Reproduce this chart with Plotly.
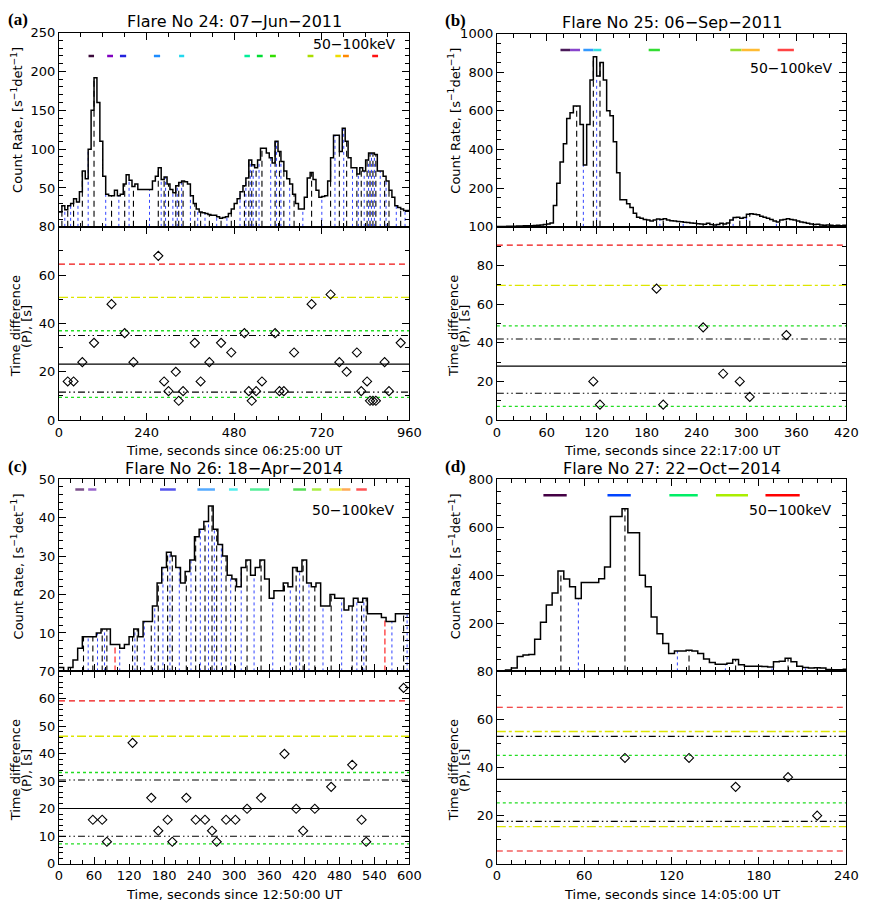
import numpy as np
import plotly.graph_objects as go

W, H = 874, 915
FONT = "DejaVu Sans"

# ---------------- Panel (a): Flare 24 ----------------
a_title = "Flare No 24: 07\u2212Jun\u22122011"
a_xtitle = "Time, seconds since 06:25:00 UT"
a_bin = 8
a_t0 = 0
a_counts = [19, 27, 22, 27, 30, 36, 32, 45, 72, 62,
            100, 150, 192, 160, 110, 65, 42, 40, 40, 47,
            40, 42, 55, 67, 60, 52, 55, 48, 48, 48,
            48, 48, 59, 65, 76, 61, 64, 55, 48, 44,
            53, 57, 59, 58, 55, 40, 30, 23, 19, 18,
            17, 16, 15, 15, 13, 11, 12, 13, 17, 23,
            30, 36, 45, 53, 63, 86, 80, 76, 86, 101,
            101, 95, 89, 82, 110, 97, 84, 72, 62, 55,
            42, 30, 23, 23, 38, 63, 70, 61, 47, 38,
            39, 40, 59, 89, 118, 118, 97, 127, 110, 89,
            76, 76, 68, 76, 72, 86, 95, 95, 93, 72,
            72, 65, 59, 47, 38, 27, 25, 23, 21, 21]
a_peak_t = [8, 24, 40, 64, 96, 144, 180, 204, 272, 288, 300, 320, 328, 340, 372, 388,
            412, 444, 472, 508, 520, 528, 540, 556, 592, 604, 616, 644, 692, 744, 768,
            788, 816, 828, 844, 852, 860, 868, 892, 904, 936]
a_valley_t = [16, 32, 52, 80, 128, 164, 192, 248, 280, 292, 312, 324, 336, 360, 380, 400,
              432, 460, 496, 512, 524, 532, 548, 580, 596, 608, 632, 668, 720, 756, 780,
              804, 820, 836, 848, 856, 864, 880, 896, 924, 948]
a_red_vt = []
a_diam_t = [24, 40, 64, 96, 144, 180, 204, 272, 288, 300, 320, 328, 340, 372, 388, 412,
            444, 472, 508, 520, 528, 540, 556, 592, 604, 616, 644, 692, 744, 768, 788,
            816, 828, 844, 852, 860, 868, 892, 904, 936]
a_diam_p = [16, 16, 24, 32, 48, 36, 24, 68, 16, 12, 20, 8, 12, 32, 16, 24, 32, 28, 36, 12,
            8, 12, 16, 36, 12, 12, 28, 48, 52, 24, 20, 28, 12, 16, 8, 8, 8, 24, 12, 32]
a_mean = 23.2
a_sigma = [11.6, 35.0]
a_green = [9.4, 37.0]
a_yellow = [50.8]
a_red = [64.6]
a_seg_y = 220
a_seg_start = [81, 132, 167, 260, 329, 508, 542, 578, 681, 757, 778, 858]
a_seg_end = [96, 148, 184, 277, 343, 523, 558, 594, 697, 772, 794, 874]
a_seg_color = ["#3a0a3a", "#8000c0", "#2222dd", "#1e8cff", "#22d8ee", "#00ee99",
               "#00dd33", "#33dd00", "#aadd00", "#eedd00", "#ff8800", "#ff1111"]

# ---------------- Panel (b): Flare 25 ----------------
b_title = "Flare No 25: 06\u2212Sep\u22122011"
b_xtitle = "Time, seconds since 22:17:00 UT"
b_bin = 4
b_t0 = 0
b_counts = [2, 2, 2, 3, 3, 3, 4, 4, 5, 5,
            6, 7, 8, 10, 12, 15, 20, 110, 225, 335,
            430, 560, 590, 625, 625, 530, 320, 530, 760, 880,
            780, 850, 760, 600, 575, 440, 280, 140, 140, 120,
            100, 70, 50, 45, 38, 35, 30, 35, 40, 38,
            42, 35, 32, 30, 28, 26, 24, 22, 20, 18,
            16, 15, 14, 18, 12, 10, 12, 18, 15, 20,
            35, 48, 50, 45, 48, 65, 68, 65, 62, 55,
            50, 45, 38, 30, 25, 35, 38, 42, 38, 35,
            30, 25, 22, 18, 15, 12, 14, 10, 8, 10,
            8, 6, 8, 5, 8]
b_peak_t = [96, 116, 124, 192, 200, 248, 272, 292, 304, 348]
b_valley_t = [104, 120, 196, 224, 264, 284, 300, 336]
b_red_vt = []
b_diam_t = [116, 124, 192, 200, 248, 272, 292, 304, 348]
b_diam_p = [20, 8, 68, 8, 48, 24, 20, 12, 44]
b_mean = 27.9
b_sigma = [13.9, 42.0]
b_green = [7.1, 48.8]
b_yellow = [69.7]
b_red = [90.5]
b_seg_y = 915
b_seg_start = [76.5, 88, 104, 116, 182.5, 280.6, 294, 337.5]
b_seg_end = [88, 100, 116, 125.6, 196, 294, 316, 357]
b_seg_color = ["#4a1a5a", "#8844cc", "#3399ff", "#33dddd", "#33dd33", "#99dd33",
               "#ffbb33", "#ff4444"]

# ---------------- Panel (c): Flare 26 ----------------
c_title = "Flare No 26: 18\u2212Apr\u22122014"
c_xtitle = "Time, seconds since 12:50:00 UT"
c_bin = 8
c_t0 = 0
c_counts = [1, 0, 1, 3, 6, 9, 9, 9, 10, 11,
            11, 7, 7, 6, 7, 9, 11, 9, 13, 13,
            17, 23, 27, 31, 30, 27, 23, 26, 29, 35,
            37, 39, 43, 37, 33, 30, 25, 24, 22, 27,
            29, 25, 27, 29, 24, 19, 21, 21, 23, 22,
            27, 26, 29, 23, 22, 23, 17, 17, 20, 19,
            19, 16, 17, 19, 18, 19, 15, 15, 15, 14,
            13, 13, 15, 15, 15]
c_peak_t = [42, 58, 74, 82, 126, 134, 158, 170, 186, 194, 218, 234, 250, 262, 270, 286,
            302, 322, 346, 386, 406, 418, 438, 466, 502, 518, 526, 590]
c_valley_t = [50, 66, 78, 104, 130, 146, 164, 178, 190, 206, 226, 242, 256, 266, 278,
              294, 312, 334, 366, 396, 412, 428, 452, 484, 510, 522, 570, 596]
c_red_vt = [96, 558]
c_diam_t = [58, 74, 82, 126, 158, 170, 186, 194, 218, 234, 250, 262, 270, 286, 302, 322,
            346, 386, 406, 418, 438, 466, 502, 518, 526, 590]
c_diam_p = [16, 16, 8, 44, 24, 12, 16, 8, 24, 16, 16, 12, 8, 16, 16, 20, 24, 40, 20, 12,
            20, 28, 36, 16, 8, 64]
c_mean = 20.1
c_sigma = [10.0, 30.5]
c_green = [7.2, 33.2]
c_yellow = [46.4]
c_red = [59.3]
c_seg_y = 47.3
c_seg_start = [28, 50, 173, 237, 291, 327, 401, 433, 463, 484, 509]
c_seg_end = [43, 64, 200, 267, 306, 360, 423, 449, 484, 499, 527]
c_seg_color = ["#7a4f8a", "#9966cc", "#5555ee", "#55aaff", "#55eeee", "#55ee99",
               "#55dd55", "#aaee44", "#eeee44", "#ffaa55", "#ff5555"]

# ---------------- Panel (d): Flare 27 ----------------
d_title = "Flare No 27: 22\u2212Oct\u22122014"
d_xtitle = "Time, seconds since 14:05:00 UT"
d_bin = 4
d_t0 = -2
d_counts = [2, 3, 6, 14, 62, 68, 70, 134, 205, 276,
            326, 418, 385, 352, 303, 370, 370, 370, 386, 434,
            645, 645, 677, 577, 577, 400, 352, 226, 157, 116,
            75, 85, 85, 88, 85, 75, 52, 37, 30, 30,
            34, 50, 28, 22, 22, 22, 20, 18, 40, 42,
            55, 40, 22, 16, 14, 15, 14, 8, 7, 7,
            9]
d_peak_t = [44, 88, 132, 164, 200, 220]
d_valley_t = [56, 124, 157, 189, 212]
d_red_vt = []
d_diam_t = [88, 132, 164, 200, 220]
d_diam_p = [44, 44, 32, 36, 20]
d_mean = 35.1
d_sigma = [17.6, 53.0]
d_green = [25.3, 45.1]
d_yellow = [15.4, 55.0]
d_red = [5.3, 65.1]
d_seg_y = 733
d_seg_start = [32, 76, 118.5, 150.5, 184.5]
d_seg_end = [48, 92, 138, 172.5, 208]
d_seg_color = ["#440044", "#0044ff", "#00ee66", "#aaee00", "#ff0000"]

panels = [
    dict(label="(a)", title=a_title, xt=a_xtitle, binw=a_bin, t0=a_t0, counts=a_counts,
         peaks=a_peak_t, valleys=a_valley_t, redv=a_red_vt, dt=a_diam_t, dp=a_diam_p,
         mean=a_mean, sigma=a_sigma, green=a_green, yellow=a_yellow, red=a_red,
         sy=a_seg_y, ss=a_seg_start, se=a_seg_end, sc=a_seg_color),
    dict(label="(b)", title=b_title, xt=b_xtitle, binw=b_bin, t0=b_t0, counts=b_counts,
         peaks=b_peak_t, valleys=b_valley_t, redv=b_red_vt, dt=b_diam_t, dp=b_diam_p,
         mean=b_mean, sigma=b_sigma, green=b_green, yellow=b_yellow, red=b_red,
         sy=b_seg_y, ss=b_seg_start, se=b_seg_end, sc=b_seg_color),
    dict(label="(c)", title=c_title, xt=c_xtitle, binw=c_bin, t0=c_t0, counts=c_counts,
         peaks=c_peak_t, valleys=c_valley_t, redv=c_red_vt, dt=c_diam_t, dp=c_diam_p,
         mean=c_mean, sigma=c_sigma, green=c_green, yellow=c_yellow, red=c_red,
         sy=c_seg_y, ss=c_seg_start, se=c_seg_end, sc=c_seg_color),
    dict(label="(d)", title=d_title, xt=d_xtitle, binw=d_bin, t0=d_t0, counts=d_counts,
         peaks=d_peak_t, valleys=d_valley_t, redv=d_red_vt, dt=d_diam_t, dp=d_diam_p,
         mean=d_mean, sigma=d_sigma, green=d_green, yellow=d_yellow, red=d_red,
         sy=d_seg_y, ss=d_seg_start, se=d_seg_end, sc=d_seg_color),
]

# ---- geometry / styling (pixels) ----
geo = [
    dict(xpx=(56, 413), top=(26, 223.5), bot=(223.5, 420), xr=960, xd=240, xm=60,
         yr=250, yd=50, ym=10, pr=80, pd=20, pm=10, kev=(357, 38)),
    dict(xpx=(502, 858), top=(27, 223.5), bot=(223.5, 420), xr=420, xd=60, xm=20,
         yr=1000, yd=200, ym=50, pr=100, pd=20, pm=10, kev=(802, 62)),
    dict(xpx=(56, 413), top=(480, 675.5), bot=(675.5, 871), xr=600, xd=60, xm=20,
         yr=50, yd=10, ym=2, pr=70, pd=10, pm=2, kev=(355, 511)),
    dict(xpx=(502, 858), top=(480, 675.5), bot=(675.5, 871), xr=240, xd=60, xm=10,
         yr=800, yd=200, ym=50, pr=80, pd=20, pm=10, kev=(801, 511)),
]


def pxx(px):
    return px / W


def pxy(py):
    return 1 - py / H


def sfx(n):
    return "" if n == 1 else str(n)


def height_at(t, p):
    i = int((t - p["t0"]) // p["binw"])
    i = max(0, min(i, len(p["counts"]) - 1))
    return p["counts"][i]


def vsegs(times, p):
    xs, ys = [], []
    for t in times:
        xs += [t, t, None]
        ys += [0, height_at(t, p), None]
    return xs, ys


fig = go.Figure()
layout = dict(width=W, height=H, margin=dict(l=0, r=0, t=0, b=0),
              paper_bgcolor="white", plot_bgcolor="white", showlegend=False,
              annotations=[])

SIG_DASH = "7px,3px,1.5px,3px,1.5px,3px"

for k, (p, g) in enumerate(zip(panels, geo)):
    nt, nb = 2 * k + 1, 2 * k + 2
    xt_, yt_ = "x" + sfx(nt), "y" + sfx(nt)
    xb_, yb_ = "x" + sfx(nb), "y" + sfx(nb)
    xr = g["xr"]

    # ---- top: vertical markers
    xs, ys = vsegs(p["valleys"], p)
    fig.add_trace(go.Scatter(x=xs, y=ys, mode="lines", xaxis=xt_, yaxis=yt_,
                             line=dict(color="#3344ff", width=1, dash="dot"),
                             hoverinfo="skip"))
    xs, ys = vsegs(p["peaks"], p)
    fig.add_trace(go.Scatter(x=xs, y=ys, mode="lines", xaxis=xt_, yaxis=yt_,
                             line=dict(color="black", width=1.1, dash="6px,4px"),
                             hoverinfo="skip"))
    if p["redv"]:
        xs, ys = vsegs(p["redv"], p)
        fig.add_trace(go.Scatter(x=xs, y=ys, mode="lines", xaxis=xt_, yaxis=yt_,
                                 line=dict(color="#ff3333", width=1.3, dash="6px,3px"),
                                 hoverinfo="skip"))
    # ---- top: count-rate histogram
    n = len(p["counts"])
    edges = p["t0"] + np.arange(n + 1) * p["binw"]
    fig.add_trace(go.Scatter(x=edges, y=list(p["counts"]) + [p["counts"][-1]],
                             mode="lines", line_shape="hv", xaxis=xt_, yaxis=yt_,
                             line=dict(color="black", width=1.5)))
    # ---- top: coloured period segments
    for s, e, c in zip(p["ss"], p["se"], p["sc"]):
        fig.add_trace(go.Scatter(x=[s, e], y=[p["sy"], p["sy"]], mode="lines",
                                 xaxis=xt_, yaxis=yt_, line=dict(color=c, width=2.5)))

    # ---- bottom: reference lines
    def hl(vals, color, dash, width=1):
        for v in vals:
            fig.add_trace(go.Scatter(x=[0, xr], y=[v, v], mode="lines", xaxis=xb_,
                                     yaxis=yb_, line=dict(color=color, dash=dash,
                                                          width=width)))
    hl(p["red"], "#ee1111", "6px,4px", 1.2)
    hl(p["yellow"], "#dde600", "dashdot", 1.3)
    hl(p["green"], "#22dd22", "dot", 1.3)
    hl(p["sigma"], "black", SIG_DASH, 1.1)
    hl([p["mean"]], "black", "solid", 1.2)
    fig.add_trace(go.Scatter(x=p["dt"], y=p["dp"], mode="markers", xaxis=xb_, yaxis=yb_,
                             marker=dict(symbol="diamond-open", size=7, color="black",
                                         line=dict(color="black", width=1.1))))

    # ---- axes
    common = dict(showline=True, linecolor="black", linewidth=1, mirror="ticks",
                  ticks="inside", ticklen=7, tickwidth=1, tickcolor="black",
                  showgrid=False, zeroline=False,
                  tickfont=dict(family=FONT, size=13, color="black"))
    xdom = [pxx(g["xpx"][0]), pxx(g["xpx"][1])]
    mnr = lambda d: dict(ticks="inside", ticklen=4, dtick=d, tick0=0, tickcolor="black",
                         tickwidth=1)
    layout["xaxis" + sfx(nt)] = dict(common, domain=xdom, range=[0, xr], anchor=yt_,
                                     tickmode="linear", tick0=0, dtick=g["xd"],
                                     showticklabels=False, minor=mnr(g["xm"]))
    layout["xaxis" + sfx(nb)] = dict(common, domain=xdom, range=[0, xr], anchor=yb_,
                                     tickmode="linear", tick0=0, dtick=g["xd"],
                                     minor=mnr(g["xm"]))
    layout["yaxis" + sfx(nt)] = dict(common, domain=[pxy(g["top"][1]), pxy(g["top"][0])],
                                     range=[0, g["yr"]], anchor=xt_,
                                     tickvals=list(range(g["yd"], g["yr"] + 1, g["yd"])),
                                     minor=mnr(g["ym"]))
    layout["yaxis" + sfx(nb)] = dict(common, domain=[pxy(g["bot"][1]), pxy(g["bot"][0])],
                                     range=[0, g["pr"]], anchor=xb_,
                                     tickmode="linear", tick0=0, dtick=g["pd"],
                                     minor=mnr(g["pm"]))

    # ---- texts
    x0, x1 = g["xpx"]
    cx = (x0 + x1) / 2
    ty = g["top"][0]
    ann = layout["annotations"]
    ann.append(dict(text=p["title"], x=pxx(cx), y=pxy(ty - 11), xref="paper",
                    yref="paper", showarrow=False, xanchor="center", yanchor="middle",
                    font=dict(family=FONT, size=16, color="black")))
    ann.append(dict(text="<b>" + p["label"] + "</b>", x=pxx(x0 - 42), y=pxy(ty - 13),
                    xref="paper", yref="paper", showarrow=False, xanchor="center",
                    yanchor="middle",
                    font=dict(family="Liberation Serif", size=17, color="black")))
    ann.append(dict(text="50\u2212100keV", x=pxx(g["kev"][0]), y=pxy(g["kev"][1]),
                    xref="paper", yref="paper", showarrow=False, xanchor="center",
                    yanchor="middle", font=dict(family=FONT, size=14, color="black")))
    ann.append(dict(text="Count Rate, [s<sup>\u22121</sup>det<sup>\u22121</sup>]",
                    x=pxx(x0 - 43), y=pxy(ty + 89), xref="paper", yref="paper",
                    showarrow=False, textangle=-90, xanchor="center", yanchor="middle",
                    font=dict(family=FONT, size=13, color="black")))
    by = (g["bot"][0] + g["bot"][1]) / 2 + 3
    ann.append(dict(text="Time difference", x=pxx(x0 - 44), y=pxy(by), xref="paper",
                    yref="paper", showarrow=False, textangle=-90, xanchor="center",
                    yanchor="middle", font=dict(family=FONT, size=13, color="black")))
    ann.append(dict(text="(P), [s]", x=pxx(x0 - 33), y=pxy(by), xref="paper",
                    yref="paper", showarrow=False, textangle=-90, xanchor="center",
                    yanchor="middle", font=dict(family=FONT, size=13, color="black")))
    ann.append(dict(text=p["xt"], x=pxx(cx), y=pxy(g["bot"][1] + 31), xref="paper",
                    yref="paper", showarrow=False, xanchor="center", yanchor="middle",
                    font=dict(family=FONT, size=13, color="black")))

fig.update_layout(**layout)
fig.write_html("out.html")
